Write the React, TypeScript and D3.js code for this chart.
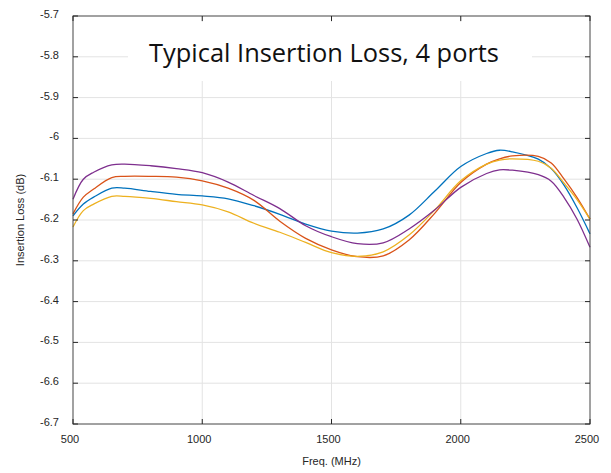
import React from "react";
import * as d3 from "d3";

// frequencies (MHz) at which the curves were read
const freqs = [500, 540, 580, 650, 700, 800, 900, 1000, 1100, 1200, 1300, 1400, 1500, 1600, 1700, 1800, 1900, 2000, 2100, 2150, 2200, 2300, 2350, 2400, 2450, 2500];

const port1 = [-6.19, -6.161, -6.144, -6.122, -6.122, -6.13, -6.137, -6.141, -6.148, -6.165, -6.186, -6.21, -6.227, -6.232, -6.222, -6.188, -6.129, -6.069, -6.037, -6.029, -6.033, -6.051, -6.074, -6.115, -6.17, -6.234];
const port2 = [-6.185, -6.144, -6.124, -6.096, -6.093, -6.093, -6.095, -6.104, -6.122, -6.152, -6.203, -6.245, -6.273, -6.29, -6.288, -6.249, -6.183, -6.108, -6.063, -6.05, -6.043, -6.044, -6.06, -6.1, -6.145, -6.198];
const port3 = [-6.217, -6.177, -6.161, -6.142, -6.142, -6.147, -6.155, -6.163, -6.18, -6.208, -6.23, -6.255, -6.28, -6.289, -6.278, -6.237, -6.175, -6.104, -6.063, -6.053, -6.05, -6.056, -6.073, -6.11, -6.15, -6.198];
const port4 = [-6.149, -6.1, -6.083, -6.065, -6.063, -6.067, -6.074, -6.084, -6.107, -6.14, -6.172, -6.214, -6.241, -6.258, -6.256, -6.222, -6.175, -6.12, -6.086, -6.077, -6.078, -6.089, -6.105, -6.145, -6.198, -6.267];

const series = [
  { name: "Port 1", values: port1, color: "#0072BD" },
  { name: "Port 2", values: port2, color: "#D95319" },
  { name: "Port 3", values: port3, color: "#EDB120" },
  { name: "Port 4", values: port4, color: "#7E2F8E" },
];

const xTicks = [500, 1000, 1500, 2000, 2500];
const yTicks = [-5.7, -5.8, -5.9, -6, -6.1, -6.2, -6.3, -6.4, -6.5, -6.6, -6.7];

const title = "Typical Insertion Loss, 4 ports";

const W = 611;
const H = 473;
const margin = { left: 73, right: 21, top: 16, bottom: 49 };

export default function App() {
  const x = d3.scaleLinear().domain([500, 2500]).range([margin.left, W - margin.right]);
  const y = d3.scaleLinear().domain([-6.7, -5.7]).range([H - margin.bottom, margin.top]);

  const line = d3
    .line<number>()
    .x((_, i) => x(freqs[i]))
    .y((d) => y(d))
    .curve(d3.curveCatmullRom.alpha(0.5));

  const x0 = x(500), x1 = x(2500), y0 = y(-6.7), y1 = y(-5.7);
  const font = "'Liberation Sans', Arial, sans-serif";

  return (
    <svg
      width={W}
      height={H}
      style={{ position: "absolute", left: 0, top: 0, background: "#fff" }}
    >
      {/* grid */}
      <g stroke="#e3e3e3" strokeWidth={1}>
        {xTicks.slice(1, -1).map((t) => (
          <line key={t} x1={x(t)} x2={x(t)} y1={y0} y2={y1} />
        ))}
        {yTicks.slice(1, -1).map((t) => (
          <line key={t} x1={x0} x2={x1} y1={y(t)} y2={y(t)} />
        ))}
      </g>

      {/* title box */}
      <rect x={128} y={22} width={404} height={59} fill="#fff" />
      <text
        x={324}
        y={62}
        textAnchor="middle"
        fontFamily="'Open Sans', sans-serif"
        fontSize={25}
        fill="#111"
        textLength={350}
        lengthAdjust="spacingAndGlyphs"
      >
        {title}
      </text>

      {/* lines */}
      {series.map((s) => (
        <path key={s.name} d={line(s.values) || ""} fill="none" stroke={s.color} strokeWidth={1.3} />
      ))}

      {/* box and ticks */}
      <g stroke="#262626" strokeWidth={1} fill="none">
        <rect x={x0} y={y1} width={x1 - x0} height={y0 - y1} stroke="#444" />
        {yTicks.map((t) => (
          <g key={t}>
            <line x1={x0} x2={x0 + 5} y1={y(t)} y2={y(t)} />
            <line x1={x1} x2={x1 - 5} y1={y(t)} y2={y(t)} />
          </g>
        ))}
        {xTicks.map((t) => (
          <g key={t}>
            <line x1={x(t)} x2={x(t)} y1={y0} y2={y0 - 5} />
            <line x1={x(t)} x2={x(t)} y1={y1} y2={y1 + 5} />
          </g>
        ))}
      </g>

      {/* tick labels */}
      <g fontFamily={font} fontSize={11} fill="#262626">
        {yTicks.map((t) => (
          <text key={t} x={x0 - 14} y={y(t) + 2} textAnchor="end">
            {String(t)}
          </text>
        ))}
        {xTicks.map((t) => (
          <text key={t} x={x(t) - 3} y={y0 + 19} textAnchor="middle">
            {t}
          </text>
        ))}
      </g>

      <text x={(x0 + x1) / 2} y={465} textAnchor="middle" fontFamily={font} fontSize={11} fill="#262626">
        Freq. (MHz)
      </text>
      <text
        transform={`translate(24, ${(y0 + y1) / 2}) rotate(-90)`}
        textAnchor="middle"
        fontFamily={font}
        fontSize={11}
        fill="#262626"
      >
        Insertion Loss (dB)
      </text>
    </svg>
  );
}
